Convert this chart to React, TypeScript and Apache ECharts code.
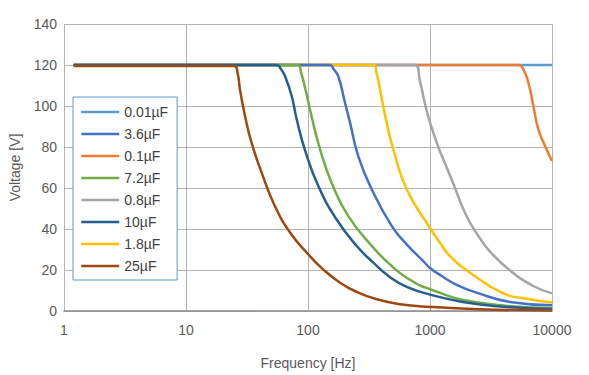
import React, { useEffect, useRef } from "react";
import * as echarts from "echarts";

// Tick labels
const xTicks = [1, 10, 100, 1000, 10000];
const yTicks = [0, 20, 40, 60, 80, 100, 120, 140];

// Legend order (as shown in the reference)
const legendOrder = ["0.01µF", "3.6µF", "0.1µF", "7.2µF", "0.8µF", "10µF", "1.8µF", "25µF"];

// Series values: frequency [Hz] and voltage [V]
const f001 = [1.2, 10000];
const v001 = [120, 120];

const f01 = [1.2, 5300, 5820, 6400, 7030, 7730, 8770, 10000];
const v01 = [120, 120, 117.9, 111.4, 100, 88.6, 80.5, 73.2];

const f08 = [1.2, 754, 828, 910, 1000, 1169, 1371, 1603, 1877, 2128, 2500, 3103, 4530, 7030, 10000];
const v08 = [120, 120, 112, 101, 92, 80, 70, 60, 49.6, 43.1, 36.5, 29, 19.8, 12.2, 8.6];

const f18 = [1.2, 343, 365, 389, 441, 500, 644, 1000, 1208, 1459, 2128, 3990, 6200, 10000];
const v18 = [120, 120, 116, 108, 91.9, 78.9, 59.4, 40.5, 33.3, 26.8, 18.7, 8.6, 6.0, 4.1];

const f36 = [1.2, 151.5, 162, 177, 201, 221, 258, 333, 485, 644, 881, 1000, 1208, 1655, 2474, 4530, 10000];
const v36 = [120, 120, 118, 114.6, 101.6, 91.9, 75.6, 59.4, 41.5, 32.5, 24.3, 21, 17.6, 12.8, 8.7, 4.4, 2.8];

const f72 = [1.2, 82.3, 88, 94.5, 107, 125.5, 156, 214, 343, 470, 644, 1000, 2474, 10000];
const v72 = [120, 120, 116, 109, 95, 78.9, 62.6, 46.3, 30.9, 22.7, 16.2, 10.6, 4.1, 1.5];

const f10 = [1.2, 55.4, 60, 64.8, 73.5, 80.8, 94.5, 121.5, 170, 251, 343, 470, 644, 1000, 2474, 10000];
const v10 = [120, 120, 118, 114.6, 104.9, 93.5, 78.5, 61, 45, 31.7, 23.6, 16.5, 11.8, 8, 3.3, 1];

const f25 = [1.2, 24.9, 26.5, 27.7, 30.5, 34.5, 41.7, 53.7, 71.5, 100, 133, 183, 251, 366, 568, 1000, 2500, 10000];
const v25 = [119.5, 119.5, 116, 108, 95, 82, 67.5, 51, 38.2, 27.8, 20.3, 13.8, 9.3, 5.7, 3.3, 2.0, 0.9, 0.3];

// Draw order (later on top)
const seriesDefs = [
  { name: "0.01µF", f: f001, v: v001, color: "#5B9BD5" },
  { name: "0.1µF", f: f01, v: v01, color: "#ED7D31" },
  { name: "0.8µF", f: f08, v: v08, color: "#A5A5A5" },
  { name: "1.8µF", f: f18, v: v18, color: "#FFC000" },
  { name: "3.6µF", f: f36, v: v36, color: "#4472C4" },
  { name: "7.2µF", f: f72, v: v72, color: "#70AD47" },
  { name: "10µF", f: f10, v: v10, color: "#255E91" },
  { name: "25µF", f: f25, v: v25, color: "#9E480E" },
];

const FONT = "'Liberation Sans', Arial, sans-serif";
const TXT = "#595959";
const GRID = "#b3b3b3";

export default function App() {
  const ref = useRef<HTMLDivElement>(null);

  useEffect(() => {
    if (!ref.current) return;
    const chart = echarts.init(ref.current, undefined, { renderer: "svg" });
    chart.setOption({
      animation: false,
      backgroundColor: "#ffffff",
      textStyle: { fontFamily: FONT },
      grid: { left: 64, right: 37, top: 24, bottom: 64 },
      legend: {
        data: legendOrder,
        orient: "vertical",
        left: 73,
        top: 97,
        backgroundColor: "#ffffff",
        borderColor: "#5B9BD5",
        borderWidth: 1,
        padding: [8, 9, 7, 7],
        itemWidth: 38,
        itemHeight: 14,
        itemGap: 8,
        itemStyle: { opacity: 0 },
        lineStyle: { width: 2.5 },
        textStyle: { fontSize: 14, color: "#404040", fontFamily: FONT },
      },
      xAxis: {
        type: "log",
        logBase: 10,
        min: xTicks[0],
        max: xTicks[xTicks.length - 1],
        name: "Frequency [Hz]",
        nameLocation: "middle",
        nameGap: 45,
        nameTextStyle: { fontSize: 14, color: TXT, fontFamily: FONT },
        axisLine: { show: true, lineStyle: { color: "#8c8c8c", width: 1.5 } },
        axisTick: { show: false },
        axisLabel: {
          fontSize: 14,
          color: TXT,
          margin: 12,
          fontFamily: FONT,
          formatter: (val: number) => String(Math.round(val)),
        },
        splitLine: { show: true, lineStyle: { color: GRID, width: 1 } },
        minorTick: { show: false },
        minorSplitLine: { show: false },
      },
      yAxis: {
        type: "value",
        min: yTicks[0],
        max: yTicks[yTicks.length - 1],
        interval: 20,
        name: "Voltage [V]",
        nameLocation: "middle",
        nameGap: 42,
        nameRotate: 90,
        nameTextStyle: { fontSize: 14, color: TXT, fontFamily: FONT },
        axisLine: { show: false },
        axisTick: { show: false },
        axisLabel: { fontSize: 14, color: TXT, margin: 7, fontFamily: FONT },
        splitLine: { show: true, lineStyle: { color: GRID, width: 1 } },
      },
      series: seriesDefs.map((s) => ({
        name: s.name,
        type: "line",
        data: s.f.map((f, i) => [f, s.v[i]]),
        symbol: "none",
        showSymbol: false,
        smooth: 0.5,
        color: s.color,
        lineStyle: { color: s.color, width: 2.5 },
        itemStyle: { color: s.color },
      })),
    });
    return () => chart.dispose();
  }, []);

  return (
    <div
      ref={ref}
      style={{ position: "absolute", left: 0, top: 0, width: 589, height: 375 }}
    />
  );
}
